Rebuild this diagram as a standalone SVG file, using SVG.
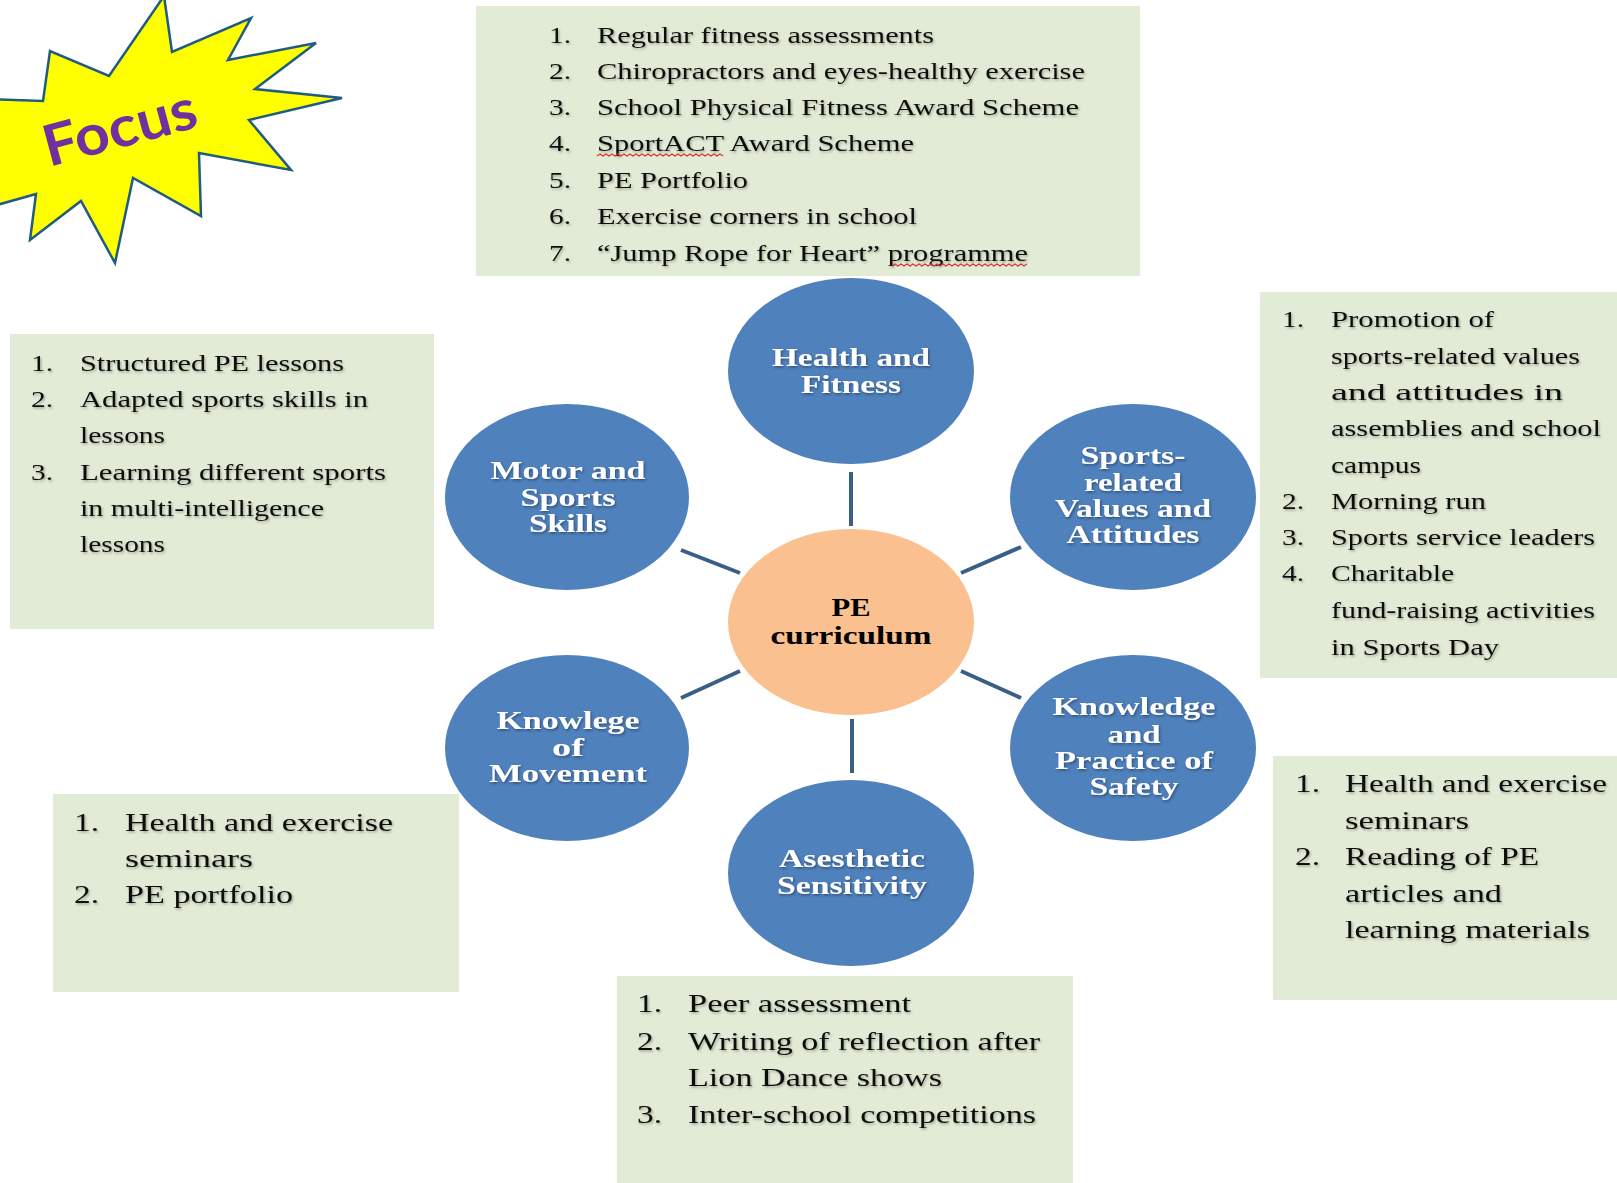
<svg xmlns="http://www.w3.org/2000/svg" width="1617" height="1183" viewBox="0 0 1617 1183">
<defs>
<style>
.box{fill:#E2EBD5;}
.bt{font-family:"Liberation Serif","Times New Roman",serif;font-size:23px;fill:#111;}
.bt2{font-family:"Liberation Serif","Times New Roman",serif;font-size:26px;fill:#111;}
.circ{fill:#4F81BD;}
.ct{font-family:"Liberation Serif","Times New Roman",serif;font-size:26px;font-weight:bold;fill:#fff;text-anchor:middle;}
.pt{font-family:"Liberation Serif","Times New Roman",serif;font-size:26px;font-weight:bold;fill:#000;text-anchor:middle;}
.con{stroke:#3A5F87;stroke-width:4;fill:none;}
.sq{stroke:#E03030;stroke-width:1.2;fill:none;}
</style>
<filter id="sh" x="-5%" y="-20%" width="110%" height="140%">
<feDropShadow dx="1.2" dy="1.5" stdDeviation="1" flood-color="#000" flood-opacity="0.3"/>
</filter>
<filter id="shw" x="-5%" y="-20%" width="110%" height="140%">
<feDropShadow dx="1.2" dy="1.5" stdDeviation="1" flood-color="#1a2a40" flood-opacity="0.6"/>
</filter>
</defs>
<rect width="1617" height="1183" fill="#fff"/>

<g id="focus">
<polygon points="-10,99 43,101 50,51 109,76 164,-4 172,52 251,18 228,60 316,43 255,89 342,98 249,120 291,170 199,153 201,216 133,178 115,263 81,201 30,240 36,194 -10,207" fill="#FFFF00" stroke="#1F5C80" stroke-width="2.5" stroke-linejoin="miter"/>
<text x="49" y="167" transform="rotate(-15 49 167)" font-family="Lato,'Open Sans',sans-serif" font-weight="bold" font-size="57" fill="#7030A0" textLength="157" lengthAdjust="spacingAndGlyphs">Focus</text>
</g>

<g id="connectors">
<line class="con" x1="851" y1="472" x2="851" y2="526"/>
<line class="con" x1="852" y1="719" x2="852" y2="773"/>
<line class="con" x1="681" y1="550" x2="740" y2="573"/>
<line class="con" x1="961" y1="573" x2="1021" y2="547"/>
<line class="con" x1="681" y1="698" x2="740" y2="671"/>
<line class="con" x1="961" y1="671" x2="1021" y2="698"/>
</g>

<g id="box-health">
<rect class="box" x="476" y="6" width="664" height="270"/>
<g class="bt" filter="url(#sh)">
<text x="549" y="43" textLength="22" lengthAdjust="spacingAndGlyphs">1.</text>
<text x="597" y="43" textLength="337" lengthAdjust="spacingAndGlyphs">Regular fitness assessments</text>
<text x="549" y="79" textLength="22" lengthAdjust="spacingAndGlyphs">2.</text>
<text x="597" y="79" textLength="488" lengthAdjust="spacingAndGlyphs">Chiropractors and eyes-healthy exercise</text>
<text x="549" y="115" textLength="22" lengthAdjust="spacingAndGlyphs">3.</text>
<text x="597" y="115" textLength="482" lengthAdjust="spacingAndGlyphs">School Physical Fitness Award Scheme</text>
<text x="549" y="151" textLength="22" lengthAdjust="spacingAndGlyphs">4.</text>
<text x="597" y="151" textLength="317" lengthAdjust="spacingAndGlyphs">SportACT Award Scheme</text>
<text x="549" y="188" textLength="22" lengthAdjust="spacingAndGlyphs">5.</text>
<text x="597" y="188" textLength="151" lengthAdjust="spacingAndGlyphs">PE Portfolio</text>
<text x="549" y="224" textLength="22" lengthAdjust="spacingAndGlyphs">6.</text>
<text x="597" y="224" textLength="320" lengthAdjust="spacingAndGlyphs">Exercise corners in school</text>
<text x="549" y="261" textLength="22" lengthAdjust="spacingAndGlyphs">7.</text>
<text x="597" y="261" textLength="431" lengthAdjust="spacingAndGlyphs">“Jump Rope for Heart” programme</text>
</g>
<path class="sq" d="M597,156 l3,-2 l3,2 l3,-2 l3,2 l3,-2 l3,2 l3,-2 l3,2 l3,-2 l3,2 l3,-2 l3,2 l3,-2 l3,2 l3,-2 l3,2 l3,-2 l3,2 l3,-2 l3,2 l3,-2 l3,2 l3,-2 l3,2 l3,-2 l3,2 l3,-2 l3,2 l3,-2 l3,2 l3,-2 l3,2 l3,-2 l3,2 l3,-2 l3,2 l3,-2 l3,2 l3,-2 l3,2 l3,-2 l3,2"/>
<path class="sq" d="M892,266 l3,-2 l3,2 l3,-2 l3,2 l3,-2 l3,2 l3,-2 l3,2 l3,-2 l3,2 l3,-2 l3,2 l3,-2 l3,2 l3,-2 l3,2 l3,-2 l3,2 l3,-2 l3,2 l3,-2 l3,2 l3,-2 l3,2 l3,-2 l3,2 l3,-2 l3,2 l3,-2 l3,2 l3,-2 l3,2 l3,-2 l3,2 l3,-2 l3,2 l3,-2 l3,2 l3,-2 l3,2 l3,-2 l3,2 l3,-2 l3,2 l3,-2"/>
</g>

<g id="box-motor">
<rect class="box" x="10" y="334" width="424" height="295"/>
<g class="bt" filter="url(#sh)">
<text x="31" y="371" textLength="22" lengthAdjust="spacingAndGlyphs">1.</text>
<text x="80" y="371" textLength="264" lengthAdjust="spacingAndGlyphs">Structured PE lessons</text>
<text x="31" y="407" textLength="22" lengthAdjust="spacingAndGlyphs">2.</text>
<text x="80" y="407" textLength="288" lengthAdjust="spacingAndGlyphs">Adapted sports skills  in</text>
<text x="80" y="443" textLength="85" lengthAdjust="spacingAndGlyphs">lessons</text>
<text x="31" y="480" textLength="22" lengthAdjust="spacingAndGlyphs">3.</text>
<text x="80" y="480" textLength="306" lengthAdjust="spacingAndGlyphs">Learning  different sports</text>
<text x="80" y="516" textLength="244" lengthAdjust="spacingAndGlyphs">in multi-intelligence</text>
<text x="80" y="552" textLength="85" lengthAdjust="spacingAndGlyphs">lessons</text>
</g>
</g>

<g id="box-values">
<rect class="box" x="1260" y="292" width="360" height="386"/>
<g class="bt" filter="url(#sh)">
<text x="1282" y="327" textLength="22" lengthAdjust="spacingAndGlyphs">1.</text>
<text x="1331" y="327" textLength="163" lengthAdjust="spacingAndGlyphs">Promotion of</text>
<text x="1331" y="364" textLength="249" lengthAdjust="spacingAndGlyphs">sports-related values</text>
<text x="1331" y="400" textLength="232" lengthAdjust="spacingAndGlyphs">and attitudes in</text>
<text x="1331" y="436" textLength="270" lengthAdjust="spacingAndGlyphs">assemblies and school</text>
<text x="1331" y="473" textLength="90" lengthAdjust="spacingAndGlyphs">campus</text>
<text x="1282" y="509" textLength="22" lengthAdjust="spacingAndGlyphs">2.</text>
<text x="1331" y="509" textLength="155" lengthAdjust="spacingAndGlyphs">Morning run</text>
<text x="1282" y="545" textLength="22" lengthAdjust="spacingAndGlyphs">3.</text>
<text x="1331" y="545" textLength="264" lengthAdjust="spacingAndGlyphs">Sports service leaders</text>
<text x="1282" y="581" textLength="22" lengthAdjust="spacingAndGlyphs">4.</text>
<text x="1331" y="581" textLength="123" lengthAdjust="spacingAndGlyphs">Charitable</text>
<text x="1331" y="618" textLength="264" lengthAdjust="spacingAndGlyphs">fund-raising activities</text>
<text x="1331" y="655" textLength="168" lengthAdjust="spacingAndGlyphs">in Sports Day</text>
</g>
</g>

<g id="box-movement">
<rect class="box" x="53" y="794" width="406" height="198"/>
<g class="bt2" filter="url(#sh)">
<text x="74" y="831" textLength="25" lengthAdjust="spacingAndGlyphs">1.</text>
<text x="125" y="831" textLength="268" lengthAdjust="spacingAndGlyphs">Health and exercise</text>
<text x="125" y="867" textLength="128" lengthAdjust="spacingAndGlyphs">seminars</text>
<text x="74" y="903" textLength="25" lengthAdjust="spacingAndGlyphs">2.</text>
<text x="125" y="903" textLength="168" lengthAdjust="spacingAndGlyphs">PE portfolio</text>
</g>
</g>

<g id="box-safety">
<rect class="box" x="1273" y="756" width="347" height="244"/>
<g class="bt2" filter="url(#sh)">
<text x="1295" y="792" textLength="25" lengthAdjust="spacingAndGlyphs">1.</text>
<text x="1345" y="792" textLength="262" lengthAdjust="spacingAndGlyphs">Health and exercise</text>
<text x="1345" y="829" textLength="124" lengthAdjust="spacingAndGlyphs">seminars</text>
<text x="1295" y="865" textLength="25" lengthAdjust="spacingAndGlyphs">2.</text>
<text x="1345" y="865" textLength="194" lengthAdjust="spacingAndGlyphs">Reading of PE</text>
<text x="1345" y="902" textLength="157" lengthAdjust="spacingAndGlyphs">articles and</text>
<text x="1345" y="938" textLength="245" lengthAdjust="spacingAndGlyphs">learning materials</text>
</g>
</g>

<g id="box-aesthetic">
<rect class="box" x="617" y="976" width="456" height="210"/>
<g class="bt2" filter="url(#sh)">
<text x="637" y="1012" textLength="25" lengthAdjust="spacingAndGlyphs">1.</text>
<text x="688" y="1012" textLength="223" lengthAdjust="spacingAndGlyphs">Peer assessment</text>
<text x="637" y="1050" textLength="25" lengthAdjust="spacingAndGlyphs">2.</text>
<text x="688" y="1050" textLength="352" lengthAdjust="spacingAndGlyphs">Writing of reflection after</text>
<text x="688" y="1086" textLength="254" lengthAdjust="spacingAndGlyphs">Lion Dance shows</text>
<text x="637" y="1123" textLength="25" lengthAdjust="spacingAndGlyphs">3.</text>
<text x="688" y="1123" textLength="348" lengthAdjust="spacingAndGlyphs">Inter-school competitions</text>
</g>
</g>

<g id="node-health">
<ellipse class="circ" cx="851" cy="371" rx="123" ry="93"/>
<g class="ct" filter="url(#shw)">
<text x="851" y="366" textLength="158" lengthAdjust="spacingAndGlyphs">Health and</text>
<text x="851" y="393" textLength="100" lengthAdjust="spacingAndGlyphs">Fitness</text>
</g>
</g>

<g id="node-motor">
<ellipse class="circ" cx="567" cy="497" rx="122" ry="93"/>
<g class="ct" filter="url(#shw)">
<text x="568" y="479" textLength="155" lengthAdjust="spacingAndGlyphs">Motor and</text>
<text x="568" y="506" textLength="95" lengthAdjust="spacingAndGlyphs">Sports</text>
<text x="568" y="532" textLength="78" lengthAdjust="spacingAndGlyphs">Skills</text>
</g>
</g>

<g id="node-values">
<ellipse class="circ" cx="1133" cy="497" rx="123" ry="93"/>
<g class="ct" filter="url(#shw)">
<text x="1133" y="464" textLength="105" lengthAdjust="spacingAndGlyphs">Sports-</text>
<text x="1133" y="491" textLength="98" lengthAdjust="spacingAndGlyphs">related</text>
<text x="1133" y="517" textLength="156" lengthAdjust="spacingAndGlyphs">Values and</text>
<text x="1133" y="543" textLength="133" lengthAdjust="spacingAndGlyphs">Attitudes</text>
</g>
</g>

<g id="node-pe">
<ellipse cx="851" cy="622" rx="123" ry="93" fill="#FAC090"/>
<g class="pt">
<text x="851" y="616" textLength="39" lengthAdjust="spacingAndGlyphs">PE</text>
<text x="851" y="644" textLength="161" lengthAdjust="spacingAndGlyphs">curriculum</text>
</g>
</g>

<g id="node-movement">
<ellipse class="circ" cx="567" cy="748" rx="122" ry="93"/>
<g class="ct" filter="url(#shw)">
<text x="568" y="729" textLength="143" lengthAdjust="spacingAndGlyphs">Knowlege</text>
<text x="568" y="756" textLength="32" lengthAdjust="spacingAndGlyphs">of</text>
<text x="568" y="782" textLength="158" lengthAdjust="spacingAndGlyphs">Movement</text>
</g>
</g>

<g id="node-safety">
<ellipse class="circ" cx="1133" cy="748" rx="123" ry="93"/>
<g class="ct" filter="url(#shw)">
<text x="1134" y="715" textLength="163" lengthAdjust="spacingAndGlyphs">Knowledge</text>
<text x="1134" y="743" textLength="53" lengthAdjust="spacingAndGlyphs">and</text>
<text x="1134" y="769" textLength="158" lengthAdjust="spacingAndGlyphs">Practice of</text>
<text x="1134" y="795" textLength="89" lengthAdjust="spacingAndGlyphs">Safety</text>
</g>
</g>

<g id="node-aesthetic">
<ellipse class="circ" cx="851" cy="873" rx="123" ry="93"/>
<g class="ct" filter="url(#shw)">
<text x="852" y="867" textLength="146" lengthAdjust="spacingAndGlyphs">Asesthetic</text>
<text x="852" y="894" textLength="150" lengthAdjust="spacingAndGlyphs">Sensitivity</text>
</g>
</g>
</svg>
